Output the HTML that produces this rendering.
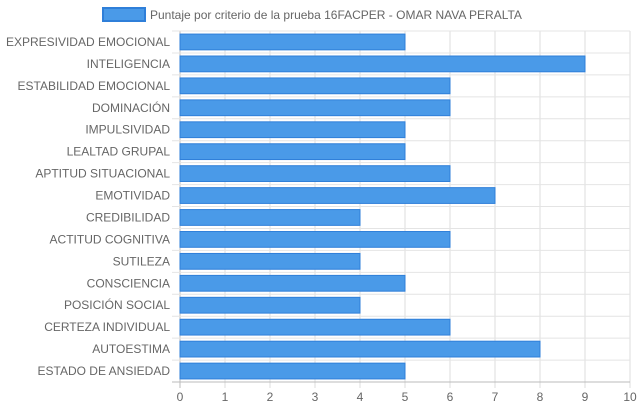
<!DOCTYPE html>
<html><head><meta charset="utf-8"><style>
body{margin:0;background:#fff;font-family:"Liberation Sans",sans-serif}
svg text{font-family:"Liberation Sans",sans-serif;font-size:12px;fill:#666}
</style></head><body>
<svg id="c" width="639" height="411">
<rect x="103" y="8" width="42" height="13" fill="#4a9ae8" stroke="#2f7fd9" stroke-width="2"/>
<text x="150" y="19">Puntaje por criterio de la prueba 16FACPER - OMAR NAVA PERALTA</text>
<g id="grid"></g><g id="bars"></g><g id="labels"></g>
</svg>
<script>
const categories=["EXPRESIVIDAD EMOCIONAL","INTELIGENCIA","ESTABILIDAD EMOCIONAL","DOMINACIÓN","IMPULSIVIDAD","LEALTAD GRUPAL","APTITUD SITUACIONAL","EMOTIVIDAD","CREDIBILIDAD","ACTITUD COGNITIVA","SUTILEZA","CONSCIENCIA","POSICIÓN SOCIAL","CERTEZA INDIVIDUAL","AUTOESTIMA","ESTADO DE ANSIEDAD"];
const values=[5,9,6,6,5,5,6,7,4,6,4,5,4,6,8,5];
const ticks=[0,1,2,3,4,5,6,7,8,9,10];
const NS="http://www.w3.org/2000/svg";
const L=180,R=630,T=31,B=382,max=10;
const x=v=>L+(R-L)*v/max;
const band=(B-T)/categories.length;
const y=i=>T+band*i;
function mk(t,a,p){const e=document.createElementNS(NS,t);for(const k in a)e.setAttribute(k,a[k]);p.appendChild(e);return e;}
const g=document.getElementById('grid'),bg=document.getElementById('bars'),lg=document.getElementById('labels');
ticks.forEach(t=>{
 const l=mk('line',{x1:x(t),x2:x(t),y1:T,y2:B+6,stroke:t==0?'#bbb':'#ddd'},g);
 
 
 const tx=mk('text',{x:x(t),y:401,'text-anchor':'middle'},lg);tx.textContent=t;
 
 
});
for(let i=0;i<=categories.length;i++){
 const l=mk('line',{x1:L-8,x2:R,y1:y(i),y2:y(i),stroke:i==categories.length?'#bbb':'#e4e4e4'},g);
 
 
}
categories.forEach((c,i)=>{
 const bh=band*0.72;
 const r=mk('rect',{x:x(0),y:y(i)+(band-bh)/2,width:x(values[i])-x(0),height:bh,fill:'#4a9ae8',stroke:'#2f7fd9','stroke-width':1},bg);
 
 
 const t=mk('text',{x:170,y:y(i)+band/2+4,'text-anchor':'end'},lg);t.textContent=c;
 
 
});
</script>
</body></html>
